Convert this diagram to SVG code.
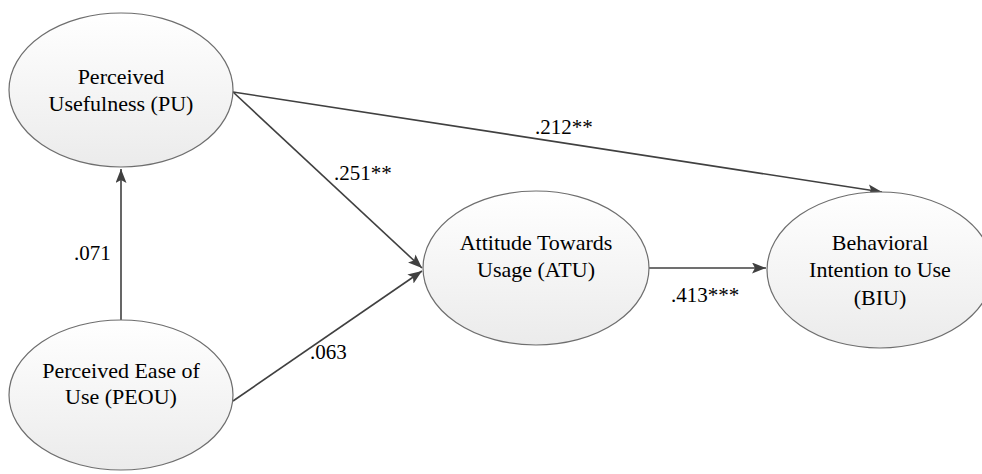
<svg xmlns="http://www.w3.org/2000/svg" width="982" height="474" viewBox="0 0 982 474">
<defs>
<linearGradient id="g" x1="0" y1="0" x2="0" y2="1">
<stop offset="0" stop-color="#ffffff"/>
<stop offset="1" stop-color="#ebebeb"/>
</linearGradient>
<marker id="ah" viewBox="0 0 14 11" refX="14" refY="5.5" markerWidth="14" markerHeight="11" markerUnits="userSpaceOnUse" orient="auto">
<path d="M0,0 L14,5.5 L0,11 L3,5.5 Z" fill="#404040"/>
</marker>
</defs>
<style>
.node ellipse{fill:url(#g);stroke:#6e6e6e;stroke-width:1.2}
text{font-family:'Liberation Serif','Times New Roman',Times,serif;fill:#000}
.node text{text-anchor:middle;font-size:22px}
.lbl{font-size:21px}
.edge{stroke:#404040;stroke-width:1.6;fill:none;marker-end:url(#ah)}
</style>
<rect width="982" height="474" fill="#fff"/>
<g id="connectors">
<line class="edge" x1="121" y1="320" x2="121" y2="169"/>
<line class="edge" x1="233" y1="92" x2="422" y2="268"/>
<line class="edge" x1="233" y1="92" x2="882" y2="192"/>
<line class="edge" x1="233" y1="401" x2="422" y2="271"/>
<line class="edge" x1="649" y1="268" x2="766" y2="268"/>
<text class="lbl" x="535" y="134">.212**</text>
<text class="lbl" x="334" y="180">.251**</text>
<text class="lbl" x="74" y="260">.071</text>
<text class="lbl" x="310" y="359">.063</text>
<text class="lbl" x="671" y="302">.413***</text>
</g>
<g id="PU" class="node">
<ellipse cx="121" cy="90" rx="112" ry="77"/>
<text x="121" y="84">Perceived</text>
<text x="121" y="111">Usefulness (PU)</text>
</g>
<g id="PEOU" class="node">
<ellipse cx="121" cy="395" rx="112" ry="75"/>
<text x="121" y="378">Perceived Ease of</text>
<text x="121" y="404">Use (PEOU)</text>
</g>
<g id="ATU" class="node">
<ellipse cx="536" cy="268" rx="113" ry="77"/>
<text x="536" y="250">Attitude Towards</text>
<text x="536" y="277">Usage (ATU)</text>
</g>
<g id="BIU" class="node">
<ellipse cx="880" cy="270" rx="113" ry="78"/>
<text x="880" y="250">Behavioral</text>
<text x="880" y="277">Intention to Use</text>
<text x="880" y="305">(BIU)</text>
</g>
</svg>
